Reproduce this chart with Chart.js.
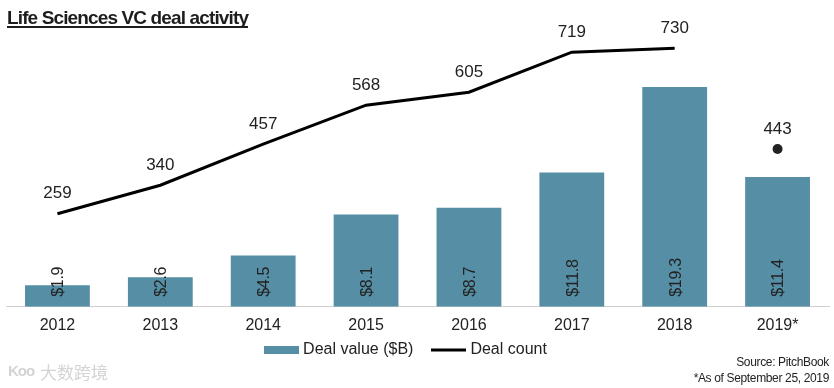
<!DOCTYPE html>
<html>
<head>
<meta charset="utf-8">
<script src="https://cdn.jsdelivr.net/npm/chart.js@4/dist/chart.umd.min.js"></script>
<style>
  html, body { margin: 0; padding: 0; background: #fff; width: 834px; height: 388px; overflow: hidden; }
  #wrap { position: relative; width: 834px; height: 388px; font-family: "Liberation Sans", sans-serif; color: #222; }
  canvas { position: absolute; left: 0; top: 0; }
  #title { position: absolute; left: 7px; top: 10px; font-size: 19px; font-weight: bold; line-height: 16px; letter-spacing: -0.87px; color: #1d1d1f; border-bottom: 2px solid #1d1d1f; }
  #source { position: absolute; right: 5px; top: 354px; font-size: 12px; line-height: 16px; letter-spacing: -0.35px; text-align: right; }
  #mark { position: absolute; left: 40px; top: 362px; font-family: "Noto Sans CJK SC"; font-size: 17px; line-height: 20px; color: #d4d4d4; }
  #logo { position: absolute; left: 8px; top: 361px; font-size: 15px; font-weight: bold; line-height: 20px; letter-spacing: -1px; color: #d4d4d4; }
</style>
</head>
<body>
<div id="wrap">
  <canvas id="chart" width="834" height="388"></canvas>
  <div id="title">Life Sciences VC deal activity</div>
  <div id="source">Source: PitchBook<br>*As of September 25, 2019</div>
  <div id="logo">Koo</div>
  <div id="mark">大数跨境</div>
</div>
<script>
const years = ["2012", "2013", "2014", "2015", "2016", "2017", "2018", "2019*"];
const dealValue = [1.9, 2.6, 4.5, 8.1, 8.7, 11.8, 19.3, 11.4];
const dealCount = [259, 340, 457, 568, 605, 719, 730, 443];
const barColor = "#568fa5";
const inkColor = "#222222";

// legend swatches, the two keys have different heights
const swatch = (w, h, color) => {
    const c = document.createElement("canvas");
    c.width = w;
    c.height = 8;
    const g = c.getContext("2d");
    g.fillStyle = color;
    g.fillRect(0, (8 - h) / 2, w, h);
    return c;
};

const valueLabels = {
    id: "valueLabels",
    afterDatasetsDraw(chart) {
        const ctx = chart.ctx;
        const yCount = chart.scales.yCount;
        const x = chart.scales.x;
        ctx.save();
        ctx.fillStyle = inkColor;
        ctx.textAlign = "center";
        ctx.textBaseline = "middle";
        ctx.font = "17px 'Liberation Sans'";
        dealCount.forEach((v, i) => {
            ctx.fillText(v, x.getPixelForValue(i), yCount.getPixelForValue(v) - 20);
        });
        ctx.font = "16px 'Liberation Sans'";
        ctx.letterSpacing = "-0.3px";
        dealValue.forEach((v, i) => {
            ctx.save();
            ctx.translate(x.getPixelForValue(i) + 1.5, chart.scales.y.bottom - 10);
            ctx.rotate(-Math.PI / 2);
            ctx.textAlign = "left";
            ctx.fillText("$" + v.toFixed(1), 0, 0);
            ctx.restore();
        });
        ctx.restore();
    },
};

// the legend sits left of the plot centre and closer to the axis in the original
const nudgeLegend = {
    id: "nudgeLegend",
    afterLayout(chart) {
        chart.legend.left -= 10;
        chart.legend.right -= 10;
        chart.legend.top -= 16;
        chart.legend.bottom -= 16;
    },
};

new Chart(document.getElementById("chart").getContext("2d"), {
    type: "bar",
    plugins: [valueLabels, nudgeLegend],
    data: {
        labels: years,
        datasets: [
            {
                type: "line",
                label: "Deal count",
                data: dealCount,
                yAxisID: "yCount",
                borderColor: "#000000",
                backgroundColor: "#222222",
                borderWidth: 3,
                tension: 0,
                pointRadius: (ctx) => (ctx.dataIndex === 7 ? 5 : 0),
                pointBorderWidth: 0,
                segment: {
                    borderColor: (ctx) => (ctx.p1DataIndex === 7 ? "transparent" : undefined),
                },
            },
            {
                label: "Deal value ($B)",
                data: dealValue,
                yAxisID: "y",
                backgroundColor: barColor,
                categoryPercentage: 1,
                barPercentage: 0.63,
            },
        ],
    },
    options: {
        responsive: false,
        animation: false,
        layout: { padding: { left: 6, right: 5, top: 30, bottom: 4 } },
        plugins: {
            tooltip: { enabled: false },
            legend: {
                position: "bottom",
                labels: {
                    usePointStyle: true,
                    pointStyleWidth: 27,
                    boxHeight: 8,
                    padding: 22,
                    color: inkColor,
                    font: { family: "'Liberation Sans'", size: 16 },
                    generateLabels: () => [
                        { text: "Deal value ($B)", pointStyle: swatch(35, 8, barColor), fontColor: inkColor, lineWidth: 0 },
                        { text: "Deal count", pointStyle: swatch(35, 3, "#000000"), fontColor: inkColor, lineWidth: 0 },
                    ],
                },
            },
        },
        scales: {
            x: {
                grid: { display: false },
                border: { color: "#cfcfcf" },
                ticks: { color: inkColor, font: { family: "'Liberation Sans'", size: 16 }, padding: 1, maxRotation: 0 },
            },
            y: { display: false, min: 0, max: 24.3 },
            yCount: { display: false, min: -6, max: 782 },
        },
    },
});
</script>
</body>
</html>
